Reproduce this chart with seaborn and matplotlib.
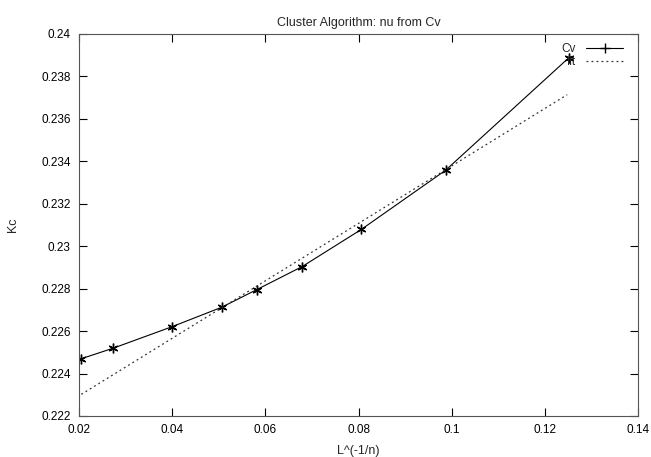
#------------- config -------------
import numpy as np
import pandas as pd
import matplotlib
matplotlib.use("Agg")
import matplotlib.pyplot as plt
from matplotlib.lines import Line2D
import seaborn as sns

sns.set_style("ticks")
plt.rcParams["font.family"] = ["Liberation Sans", "DejaVu Sans"]

#------------- data -------------
L_inv = [0.0205, 0.0274, 0.0400, 0.0507, 0.0582, 0.0679, 0.0806, 0.0987, 0.1251]
Kc = [0.22470, 0.22520, 0.22621, 0.22713, 0.22796, 0.22904, 0.23079, 0.23358, 0.23887]

fit_x = [0.0205, 0.1248]
fit_y = [0.22302, 0.23714]

x_ticks = [0.02, 0.04, 0.06, 0.08, 0.1, 0.12, 0.14]
x_labels = ["0.02", "0.04", "0.06", "0.08", "0.1", "0.12", "0.14"]
y_ticks = [0.222, 0.224, 0.226, 0.228, 0.23, 0.232, 0.234, 0.236, 0.238, 0.24]
y_labels = ["0.222", "0.224", "0.226", "0.228", "0.23", "0.232", "0.234", "0.236", "0.238", "0.24"]

df = pd.DataFrame({"x": L_inv, "Kc": Kc})
df_fit = pd.DataFrame({"x": fit_x, "Kc": fit_y})

#------------- plot -------------
fig, ax = plt.subplots(figsize=(6.51, 4.57), dpi=100)
fig.subplots_adjust(left=79/651, right=638/651, top=1-34/457, bottom=1-416/457)

sns.lineplot(data=df, x="x", y="Kc", ax=ax, color="black", linewidth=0.8,
             marker=(6, 2, 0), markersize=7, markeredgewidth=1.0,
             markeredgecolor="black", sort=False)
sns.lineplot(data=df_fit, x="x", y="Kc", ax=ax, color="#333333", linewidth=0.9,
             linestyle=(0, (1.5, 2.5)), sort=False)

ax.set_xlim(0.02, 0.14)
ax.set_ylim(0.222, 0.24)
ax.set_xticks(x_ticks, x_labels)
ax.set_yticks(y_ticks, y_labels)
ax.tick_params(direction="in", length=6, width=0.8, top=True, right=True,
               labelsize=8.5, colors="black", pad=6)
for s in ax.spines.values():
    s.set_visible(True)
    s.set_linewidth(0.8)
    s.set_color("#555555")

ax.set_title("Cluster Algorithm: nu from Cv", fontsize=9, pad=5.5)
ax.set_xlabel("L^(-1/n)", fontsize=9, labelpad=6)
ax.set_ylabel("Kc", fontsize=9, labelpad=16)

handles = [
    Line2D([], [], color="black", linewidth=0.8, marker="+", markersize=7),
    Line2D([], [], color="#333333", linewidth=0.9, linestyle=(0, (1.5, 2.5))),
]
ax.legend(handles, ["Cv", "fit"], loc="upper right", frameon=False,
          markerfirst=False, fontsize=8.5, handlelength=3.1, handletextpad=0.9,
          labelspacing=0.07, borderaxespad=0.4, bbox_to_anchor=(0.99, 1.0))

fig.savefig("out.png", dpi=100)
